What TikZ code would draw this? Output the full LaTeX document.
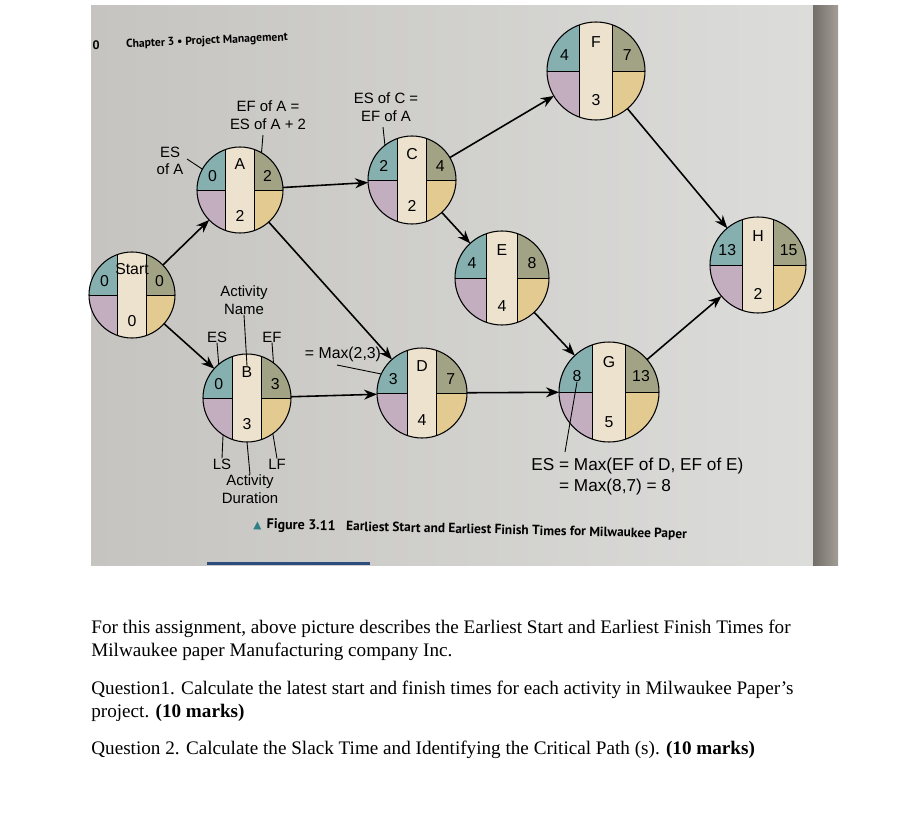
\documentclass[tikz,border=0pt]{standalone}
\usepackage{fontspec}
\setmainfont{Liberation Serif}
\newfontfamily\figfont{Liberation Sans}
\newfontfamily\capfont{PT Sans}
\newfontfamily\simfont{DejaVu Sans}
\usetikzlibrary{positioning,arrows.meta,calc}
\definecolor{cturq}{HTML}{86B0AF}
\definecolor{clila}{HTML}{C3AEBF}
\definecolor{ccrema}{HTML}{ECE2CE}
\definecolor{coliva}{HTML}{A2A385}
\definecolor{carena}{HTML}{E2CA90}
\definecolor{cfondo}{HTML}{DCDCDA}
\definecolor{cfondoosc}{HTML}{C5C4C0}
\definecolor{cborde}{HTML}{A39E95}
\definecolor{ctrian}{HTML}{2F7F86}
\definecolor{cazul}{HTML}{2C4E7E}
\tikzset{
  nodo/.style={circle, inner sep=0pt, outer sep=0pt},
  num/.style={font=\figfont\fontsize{9}{10}\selectfont, inner sep=0pt},
  etq/.style={font=\figfont\fontsize{8.5}{10}\selectfont, align=center, inner sep=0pt},
  flecha/.style={-{Stealth[length=2.6mm,width=2mm]}, line width=0.9pt},
  guia/.style={line width=0.5pt},
  texto/.style={font=\fontsize{10.9}{13}\selectfont, anchor=west, inner sep=0pt},
}
% #1 nombre, #2 posicion, #3 radio, #4 actividad, #5 ES, #6 EF, #7 duracion
\newcommand{\actividad}[7]{%
  \node[nodo, minimum size=#3*0.04cm] (#1) at (#2) {};
  \begin{scope}[shift={(#2)}]
    \begin{scope}
      \clip (0,0) circle (#3);
      \fill[cturq] (-#3,0) rectangle ({-0.33*#3},-#3);
      \fill[clila] (-#3,0) rectangle ({-0.33*#3},#3);
      \fill[ccrema] ({-0.33*#3},-#3) rectangle ({0.33*#3},#3);
      \fill[coliva] ({0.33*#3},-#3) rectangle (#3,0);
      \fill[carena] ({0.33*#3},0) rectangle (#3,#3);
      \draw[line width=0.5pt] ({-0.33*#3},-#3) -- ({-0.33*#3},#3)
        ({0.33*#3},-#3) -- ({0.33*#3},#3)
        (-#3,0) -- ({-0.33*#3},0) ({0.33*#3},0) -- (#3,0);
    \end{scope}
    \draw[line width=0.6pt] (0,0) circle (#3);
    \node[num] (#1-n) at (0,{-0.6*#3}) {#4};
    \node[num] (#1-es) at ({-0.64*#3},{-0.32*#3}) {#5};
    \node[num] (#1-ef) at ({0.64*#3},{-0.32*#3}) {#6};
    \node[num] (#1-d) at (0,{0.6*#3}) {#7};
  \end{scope}
}

\begin{document}
\begin{tikzpicture}[x=0.02cm, y=-0.02cm]
  \useasboundingbox (0,0) rectangle (920,818);
  % foto
  \shade[left color=cfondoosc, right color=cfondo] (91,5) rectangle (813,565);
  \shade[left color=cborde!70!black, right color=cborde] (813,5) rectangle (838,565);
  \fill[cazul] (207,562) rectangle (370,565);

  \node[font=\capfont\bfseries\fontsize{7}{8}\selectfont] (pag) at (96,45) {0};
  \node[font=\capfont\bfseries\fontsize{6.6}{8}\selectfont, anchor=west, rotate=2.5] (cap) at (120,45)
    {Chapter 3 \textbullet{} Project Management};

  \actividad{Start}{132,295}{43}{Start}{0}{0}{0}
  \actividad{A}{240,190}{43}{A}{0}{2}{2}
  \actividad{B}{247,398}{44}{B}{0}{3}{3}
  \actividad{C}{412,180}{44}{C}{2}{4}{2}
  \actividad{D}{422,393}{45}{D}{3}{7}{4}
  \actividad{E}{502,278}{47}{E}{4}{8}{4}
  \actividad{F}{596,71}{49}{F}{4}{7}{3}
  \actividad{G}{609,392}{50}{G}{8}{13}{5}
  \actividad{H}{758,265}{48}{H}{13}{15}{2}

  \draw[flecha] (Start) -- (A);
  \draw[flecha] (Start) -- (B);
  \draw[flecha] (A) -- (C);
  \draw[flecha] (A) -- (D);
  \draw[flecha] (B) -- (D);
  \draw[flecha] (C) -- (F);
  \draw[flecha] (C) -- (E);
  \draw[flecha] (F) -- (H);
  \draw[flecha] (E) -- (G);
  \draw[flecha] (D) -- (G);
  \draw[flecha] (G) -- (H);

  % etiquetas
  \node[etq] (efA) at (268,115) {EF of A =\\ES of A + 2};
  \node[etq] (esC) at (386,107) {ES of C =\\EF of A};
  \node[etq] (esA) at (170,161) {ES\\of A};
  \node[etq] (nombre) at (244,300) {Activity\\Name};
  \node[etq] (esB) at (217,337) {ES};
  \node[etq] (efB) at (272,337) {EF};
  \node[etq, font=\figfont\fontsize{9}{10}\selectfont] (maxD) at (343,354) {= Max(2,3)};
  \node[etq] (lsB) at (222,464) {LS};
  \node[etq] (lfB) at (277,464) {LF};
  \node[etq] (dur) at (250,489) {Activity\\Duration};
  \node[etq, font=\figfont\fontsize{9.8}{11.5}\selectfont, align=left, anchor=north west] (maxG) at (531,458)
    {ES = Max(EF of D, EF of E)\\\phantom{ES} = Max(8,7) = 8};

  \coordinate (efAp) at (263,135);
  \coordinate (esCp) at (383,127);
  \coordinate (esAp) at (187,159);
  \coordinate (maxDp) at (337,365);
  \coordinate (maxGp) at (565,452);
  \draw[guia] (efAp) -- (A.60);
  \draw[guia] (esCp) -- (C.128);
  \draw[guia] (esAp) -- (A.151);
  \draw[guia] (nombre.south) -- (B-n.north);
  \draw[guia] (esB.south) -- (B.130);
  \draw[guia] (efB.south) -- (B.53);
  \draw[guia] (maxDp) -- (D.155);
  \draw[guia] (lsB.north) -- (B.237);
  \draw[guia] (lfB.north) -- (B.-54);
  \draw[guia] (B.south) -- (dur.north);
  \draw[guia] (maxGp) -- (G-es.south);

  % pie de figura
  \node[anchor=west, inner sep=0pt, rotate=-1.3] (pie) at (253,525)
    {{\simfont\color{ctrian}\fontsize{6}{7}\selectfont ▲}\hspace{3pt}{\capfont\bfseries\fontsize{8}{10}\selectfont Figure 3.11}\hspace{6pt}{\capfont\bfseries\fontsize{7.6}{8}\selectfont Earliest Start and Earliest Finish Times for Milwaukee Paper}};

  % texto
  \node[texto] (p1) at (91,629) {For this assignment, above picture describes the Earliest Start and Earliest Finish Times for};
  \node[texto] (p2) at (91,652) {Milwaukee paper Manufacturing company Inc.};
  \node[texto] (q1) at (91,690) {Question1. Calculate the latest start and finish times for each activity in Milwaukee Paper’s};
  \node[texto] (q1b) at (91,713) {project. \textbf{(10 marks)}};
  \node[texto] (q2) at (91,750) {Question 2. Calculate the Slack Time and Identifying the Critical Path (s). \textbf{(10 marks)}};
\end{tikzpicture}
\end{document}
